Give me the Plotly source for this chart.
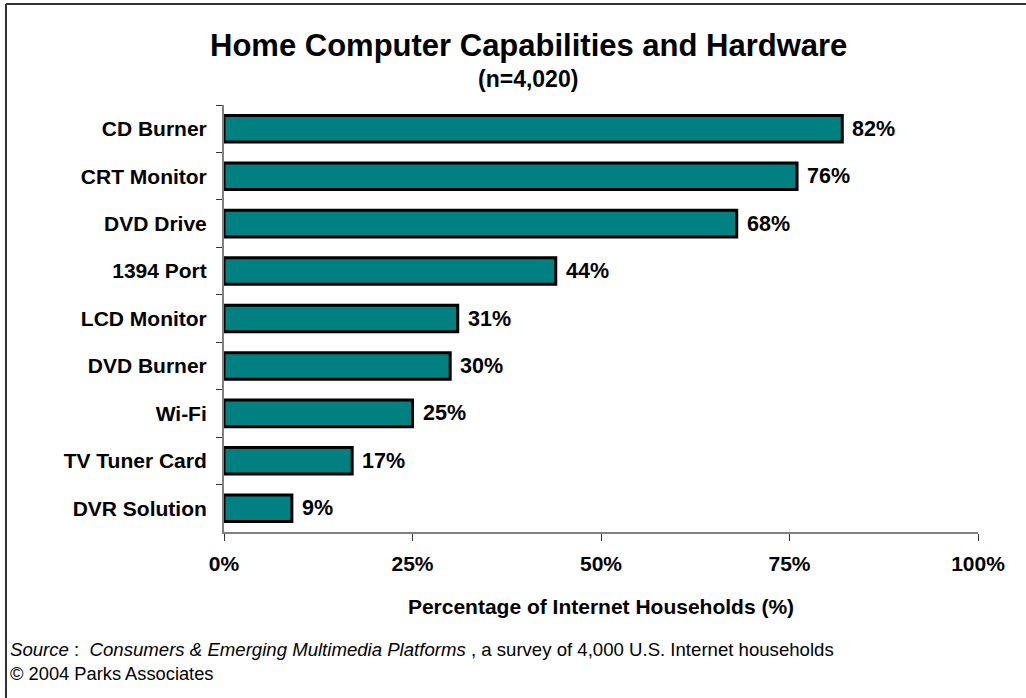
import plotly.graph_objects as go

categories = ["CD Burner", "CRT Monitor", "DVD Drive", "1394 Port", "LCD Monitor",
              "DVD Burner", "Wi-Fi", "TV Tuner Card", "DVR Solution"]
values = [82, 76, 68, 44, 31, 30, 25, 17, 9]
x_ticks = [0, 25, 50, 75, 100]
x_tick_labels = ["0%", "25%", "50%", "75%", "100%"]

W, H = 1026, 698
L, R, T, B = 224, 48, 105, 166
pw, ph = W - L - R, H - T - B
FONT = "Liberation Sans, Arial, sans-serif"

def px(x):
    return (x - L) / pw

def py(y):
    return (H - B - y) / ph

fig = go.Figure()
fig.add_trace(go.Bar(
    x=values, y=categories, orientation="h",
    marker=dict(color="#008080", line=dict(color="black", width=3)),
    width=0.56,
    hoverinfo="skip",
))

annotations = []
for c, v in zip(categories, values):
    annotations.append(dict(x=v, y=c, xref="x", yref="y", text=f"<b>{v}%</b>",
                            showarrow=False, xanchor="left", xshift=8,
                            font=dict(family=FONT, size=21.5, color="black")))

annotations += [
    dict(x=px(528), y=py(45), xref="paper", yref="paper",
         text="<b>Home Computer Capabilities and Hardware</b>", showarrow=False,
         xanchor="center", yanchor="middle",
         font=dict(family=FONT, size=31, color="black")),
    dict(x=px(528), y=py(79), xref="paper", yref="paper",
         text="<b>(n=4,020)</b>", showarrow=False,
         xanchor="center", yanchor="middle",
         font=dict(family=FONT, size=23, color="black")),
    dict(x=px(8), y=py(650), xref="paper", yref="paper",
         text="<i>Source</i> :  <i>Consumers &amp; Emerging Multimedia Platforms</i> , a survey of 4,000 U.S. Internet households",
         showarrow=False, xanchor="left", yanchor="middle",
         font=dict(family=FONT, size=18.6, color="black")),
    dict(x=px(8), y=py(673), xref="paper", yref="paper",
         text="© 2004 Parks Associates",
         showarrow=False, xanchor="left", yanchor="middle",
         font=dict(family=FONT, size=18.3, color="black")),
]

border = dict(color="#333333", width=2)
fig.update_layout(
    width=W, height=H,
    margin=dict(l=L, r=R, t=T, b=B),
    paper_bgcolor="white", plot_bgcolor="white",
    showlegend=False,
    annotations=annotations,
    shapes=[
        dict(type="line", xref="paper", yref="paper",
             x0=px(6), x1=px(6), y0=py(4), y1=py(698), line=border, layer="below"),
        dict(type="line", xref="paper", yref="paper",
             x0=px(6), x1=px(1026), y0=py(4), y1=py(4), line=border, layer="below"),
    ],
    xaxis=dict(range=[0, 100], tickvals=x_ticks, ticktext=[f"<b>{t}</b>" for t in x_tick_labels],
               showgrid=False, zeroline=False, showline=True, linecolor="#808080",
               linewidth=2, ticks="outside", ticklen=7, tickcolor="#333333",
               tickfont=dict(family=FONT, size=21, color="black"),
               ticklabelstandoff=5,
               title=dict(text="<b>Percentage of Internet Households (%)</b>",
                          font=dict(family=FONT, size=21, color="black"), standoff=25),
               fixedrange=True),
    yaxis=dict(autorange="reversed", showgrid=False, zeroline=False, showline=True,
               linecolor="#808080", linewidth=2, ticks="outside", ticklen=6,
               tickcolor="#333333", tickson="boundaries",
               tickfont=dict(family=FONT, size=21, color="black"),
               ticklabelstandoff=11, tickprefix="<b>", ticksuffix="</b>",
               fixedrange=True),
)

fig.write_html("out.html", config={"displayModeBar": False},
               post_script=("document.documentElement.style.overflow='hidden';"
                            "document.documentElement.style.background='white';"
                            "document.body.style.margin='0';"
                            "document.body.style.overflow='hidden';"))
